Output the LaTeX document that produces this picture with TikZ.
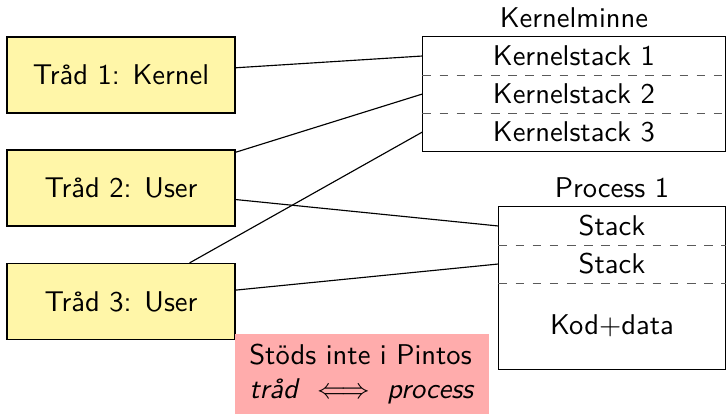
\documentclass[tikz,border=0pt]{standalone}
\usepackage{tikz}
\definecolor{thrfill}{RGB}{255,246,168}
\definecolor{pinkfill}{RGB}{255,172,172}
\definecolor{dashgray}{RGB}{90,90,90}
\tikzset{
  thr/.style={draw=black, fill=thrfill, line width=0.4pt, minimum width={228*0.35pt}, minimum height={76*0.35pt}, inner sep=0pt, font=\sffamily},
  krow/.style={minimum width={302*0.35pt}, minimum height={38*0.35pt}, inner sep=0pt, font=\sffamily},
  prow/.style={minimum width={226*0.35pt}, minimum height={38*0.35pt}, inner sep=0pt, font=\sffamily},
  lbl/.style={font=\sffamily, inner sep=0pt},
  conn/.style={line width=0.4pt, draw=black},
  sep/.style={dashed, draw=dashgray, line width=0.4pt},
  pinkbox/.style={fill=pinkfill, minimum width={254*0.35pt}, minimum height={80*0.35pt}, inner sep=0pt, font=\sffamily, align=left}
}
\begin{document}
\begin{tikzpicture}[x=0.35pt,y=-0.35pt]
\useasboundingbox (0,0) rectangle (726,416);
% threads
\node[thr] (t1) at (121,75) {Tråd 1: Kernel};
\node[thr] (t2) at (121,188) {Tråd 2: User};
\node[thr] (t3) at (121,301.5) {Tråd 3: User};
% kernel memory
\node[lbl] (kmlbl) at (574,18) {Kernelminne};
\node[krow] (ks1) at (574,56) {Kernelstack 1};
\node[krow] (ks2) at (574,94) {Kernelstack 2};
\node[krow] (ks3) at (574,132) {Kernelstack 3};
\draw[line width=0.4pt] (ks1.north west) rectangle (ks3.south east);
\draw[sep] (ks1.south west) -- (ks1.south east);
\draw[sep] (ks2.south west) -- (ks2.south east);
% process
\node[lbl] (plbl) at (612,188) {Process 1};
\node[prow] (st1) at (612,226) {Stack};
\node[prow] (st2) at (612,264) {Stack};
\node[prow, minimum height={86*0.35pt}] (kod) at (612,326) {Kod$+$data};
\draw[line width=0.4pt] (st1.north west) rectangle (kod.south east);
\draw[sep] (st1.south west) -- (st1.south east);
\draw[sep] (st2.south west) -- (st2.south east);
% note
\node[pinkbox] (note) at (362,374) {Stöds inte i Pintos\\\textit{tråd} $\iff$ \textit{process}};
% connectors
\draw[conn] (t1) -- (ks1.west);
\draw[conn] (t2) -- (ks2.west);
\draw[conn] (t3) -- (ks3.west);
\draw[conn] (t2) -- (st1.west);
\draw[conn] (t3) -- (st2.west);
\end{tikzpicture}
\end{document}
